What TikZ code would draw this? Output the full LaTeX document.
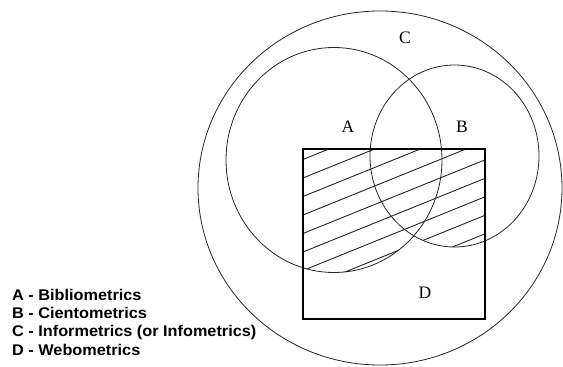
\documentclass[tikz,border=0pt]{standalone}
\usepackage{fontspec}
\setmainfont{Liberation Serif}
\newfontfamily\legendfont[FakeStretch=1.05]{Liberation Sans}
\begin{document}
\begin{tikzpicture}[x=1pt,y=-1pt,
  setline/.style={line width=0.8pt,black!85},
  boxline/.style={line width=1.3pt,black},
  hatchline/.style={line width=0.9pt,black!85},
  setlabel/.style={font=\fontsize{17.5}{20}\selectfont,inner sep=0pt},
  legendline/.style={font=\legendfont\bfseries\fontsize{15.5}{18}\selectfont,anchor=base west,inner sep=0pt}]
\useasboundingbox (0,0) rectangle (563,367);
% hatching inside rectangle and (A or B)
\begin{scope}
  \clip (334,160) ellipse [x radius=108pt, y radius=112.5pt]
        (454.5,156) ellipse [x radius=84.5pt, y radius=91pt];
  \clip (303,149) rectangle (485,319);
  \foreach \i in {0,...,8}{
    \pgfmathsetmacro{\c}{159.5+18.5*\i}
    \draw[hatchline] (300,\c+1.2) -- (490,\c-75.7);
  }
\end{scope}
% sets
\draw[setline] (380,188) ellipse [x radius=182pt, y radius=177pt];
\draw[setline] (334,160) ellipse [x radius=108pt, y radius=112.5pt];
\draw[setline] (454.5,156) ellipse [x radius=84.5pt, y radius=91pt];
\draw[boxline] (303,149) rectangle (485,319);
% labels
\node[setlabel] (lc) at (405,38) {C};
\node[setlabel] (la) at (348,127) {A};
\node[setlabel] (lb) at (462,127) {B};
\node[setlabel] (ld) at (425,293) {D};
% legend
\node[legendline] (l1) at (12,300) {A - Bibliometrics};
\node[legendline] (l2) at (12,318.4) {B - Cientometrics};
\node[legendline] (l3) at (12,336.8) {C - Informetrics (or Infometrics)};
\node[legendline] (l4) at (12,355.2) {D - Webometrics};
\end{tikzpicture}
\end{document}
